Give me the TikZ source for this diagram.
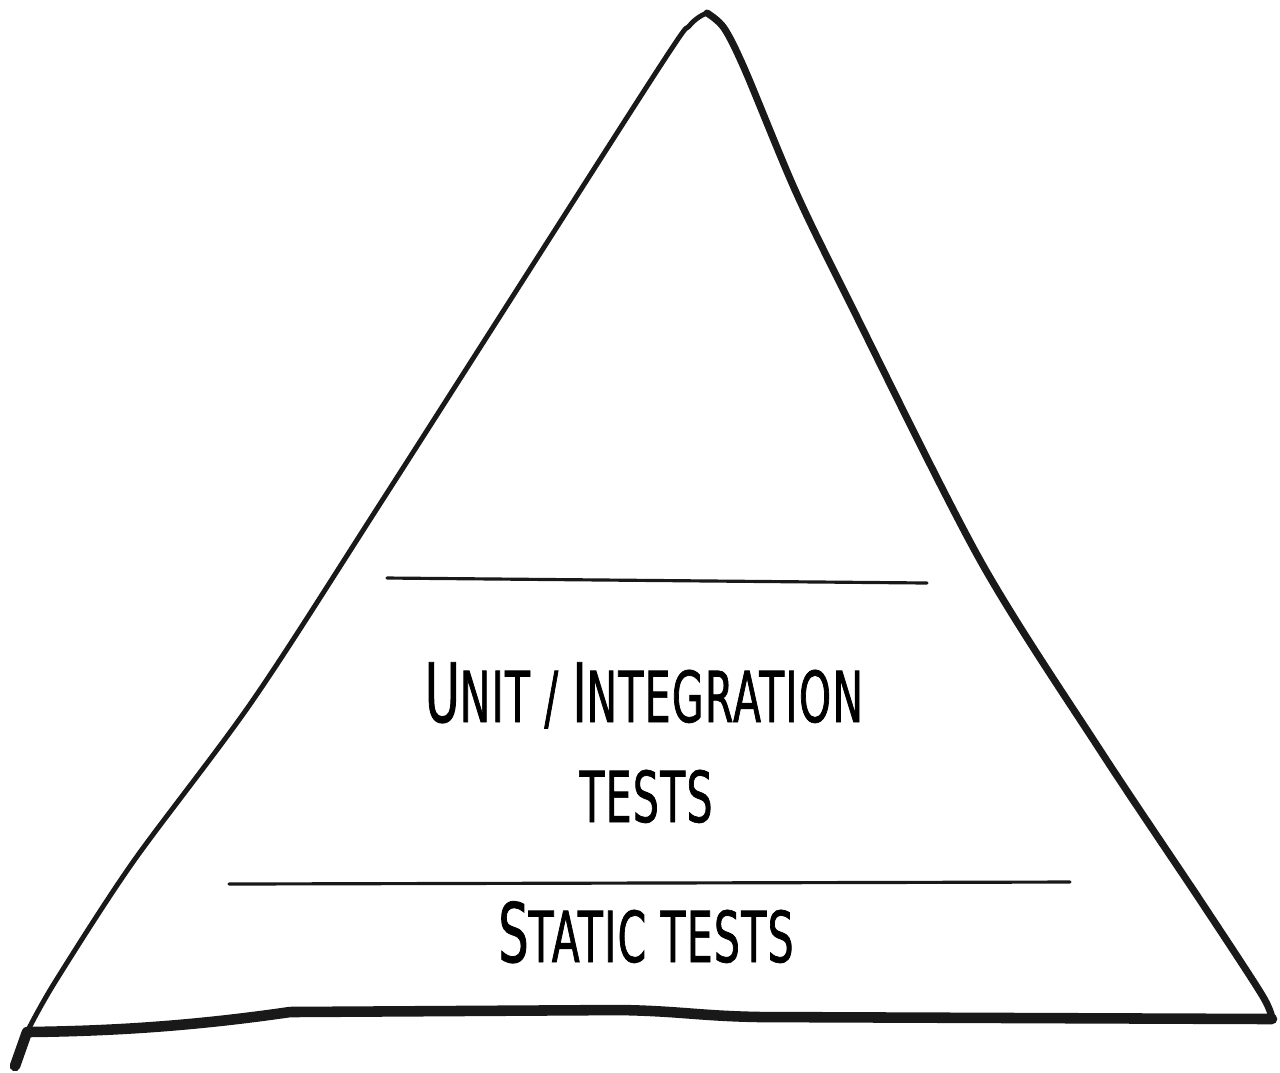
\documentclass[tikz,border=0pt]{standalone}
\usepackage{fontspec}
\newfontfamily\handfont[FakeStretch=0.58, LetterSpace=2, FakeBold=1]{DejaVu Sans}
\newcommand\capletter[1]{{\fontsize{23.3}{28}\selectfont #1}}
\tikzset{
  pen/.style={line cap=round, line join=round, black!90},
  layertext/.style={font=\handfont\fontsize{20}{24}\selectfont, anchor=base, inner sep=0pt},
}
\begin{document}
\begin{tikzpicture}[x=0.01cm,y=-0.01cm]
  \useasboundingbox (0,0) rectangle (1280,1072);
  \coordinate (apex) at (707,13);
  \coordinate (left) at (27,1032);
  \coordinate (right) at (1272,1019);
  \coordinate (tail) at (15,1066);
  % sides of the pyramid
  \draw[pen, line width=1.4pt] plot[smooth, tension=0.5] coordinates {(apex) (690,25) (653,77)
    (387,493) (253,700) (133,862) (55,982) (left)};
  \draw[pen, line width=2pt] plot[smooth, tension=0.5] coordinates {(apex) (724,28) (745,70)
    (795,190) (847,297) (980,560) (1100,750) (1200,900) (1262,995) (right)};
  \draw[pen, line width=3pt] (tail) -- (left) .. controls (120,1031) and (200,1025) .. (290,1012)
    -- (620,1010) .. controls (680,1011) and (700,1016) .. (760,1017) -- (right);
  % layer borders
  \coordinate (upperL) at (387,578);
  \coordinate (upperR) at (927,583);
  \coordinate (lowerL) at (229,884);
  \coordinate (lowerR) at (1070,882);
  \draw[pen, line width=0.9pt] (upperL) -- (upperR);
  \draw[pen, line width=0.9pt] (lowerL) -- (lowerR);
  % layer names
  \node[layertext] (unit) at (644,722) {\capletter{U}NIT / \capletter{I}NTEGRATION};
  \node[layertext] (tests) at (646,822) {TESTS};
  \node[layertext] (static) at (646,962) {\capletter{S}TATIC TESTS};
\end{tikzpicture}
\end{document}
